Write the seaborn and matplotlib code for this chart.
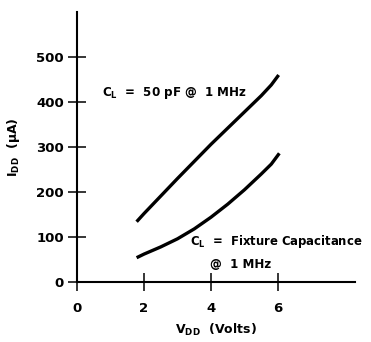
import matplotlib
matplotlib.use("Agg")
import matplotlib.pyplot as plt
import pandas as pd
import seaborn as sns

# Supply current vs. supply voltage, two load conditions
vdd_50pf = [1.78, 2.0, 2.5, 3.0, 3.5, 4.0, 4.5, 5.0, 5.5, 5.8, 6.02]
idd_50pf = [134, 152, 191, 230, 268, 306, 342, 378, 414, 438, 460]
vdd_fixture = [1.78, 2.0, 2.5, 3.0, 3.5, 4.0, 4.5, 5.0, 5.5, 5.8, 6.04]
idd_fixture = [54, 62, 78, 96, 118, 144, 173, 205, 240, 262, 286]

x_ticks = [0, 2, 4, 6]
y_ticks = [0, 100, 200, 300, 400, 500]

sns.set_theme(style="ticks")
plt.rcParams["font.family"] = ["DejaVu Sans"]
plt.rcParams["mathtext.default"] = "regular"
plt.rcParams["text.color"] = "black"
plt.rcParams["axes.labelcolor"] = "black"

df = pd.concat([
    pd.DataFrame({"vdd": vdd_50pf, "idd": idd_50pf, "load": "50pF"}),
    pd.DataFrame({"vdd": vdd_fixture, "idd": idd_fixture, "load": "fixture"}),
])

fig = plt.figure(figsize=(3.71, 3.42), dpi=100)
ax = fig.add_axes([0.2075, 0.1754, 0.7495, 0.7895])

sns.lineplot(data=df, x="vdd", y="idd", hue="load", palette=["black", "black"],
             linewidth=2.4, legend=False, ax=ax, sort=False, estimator=None)
for line in ax.get_lines():
    line.set_solid_joinstyle("round")
    line.set_solid_capstyle("butt")

ax.set_xlim(0, 8.3)
ax.set_ylim(0, 600)
ax.set_xticks(x_ticks)
ax.set_yticks(y_ticks)
ax.set_xticklabels([str(t) for t in x_ticks], fontsize=9.5, fontweight="bold", color="black")
ax.set_yticklabels([str(t) for t in y_ticks], fontsize=9.5, fontweight="bold", color="black")

for side in ["top", "right"]:
    ax.spines[side].set_visible(False)
for side in ["left", "bottom"]:
    ax.spines[side].set_color("black")
    ax.spines[side].set_linewidth(1.5)

ax.tick_params(axis="both", direction="inout", length=13, width=1.1, colors="black")
ax.tick_params(axis="x", pad=8)
ax.tick_params(axis="y", pad=3)

ax.set_xlabel("V$_{DD}$  (Volts)", fontsize=9, fontweight="bold", labelpad=5)
ax.set_ylabel("I$_{DD}$  (µA)", fontsize=9, fontweight="bold", labelpad=10)

ax.text(0.75, 420, "C$_L$  =  50 pF @  1 MHz", fontsize=8.6, fontweight="bold",
        va="center", ha="left")
ax.text(3.37, 89, "C$_L$  =  Fixture Capacitance", fontsize=8.4, fontweight="bold",
        va="center", ha="left")
ax.text(3.97, 40, "@  1 MHz", fontsize=8.6, fontweight="bold", va="center", ha="left")

fig.savefig("out.png", dpi=100)
